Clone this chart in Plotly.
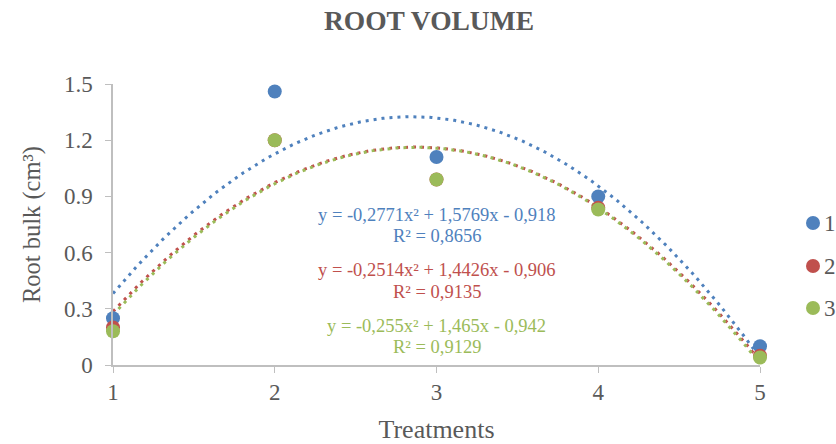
import numpy as np
import plotly.graph_objects as go

treatments = [1, 2, 3, 4, 5]
series_names = ["1", "2", "3"]
s1 = [0.25, 1.46, 1.11, 0.90, 0.10]
s2 = [0.20, 1.20, 0.99, 0.84, 0.05]
s3 = [0.18, 1.20, 0.99, 0.83, 0.04]
# trendline coefficients as displayed on the chart (a, b, c) for y = a x^2 + b x + c
coef1 = [-0.2771, 1.5769, -0.918]
coef2 = [-0.2514, 1.4426, -0.906]
coef3 = [-0.255, 1.465, -0.942]
eq_text1 = ["y = -0,2771x² + 1,5769x - 0,918", "R² = 0,8656"]
eq_text2 = ["y = -0,2514x² + 1,4426x - 0,906", "R² = 0,9135"]
eq_text3 = ["y = -0,255x² + 1,465x - 0,942", "R² = 0,9129"]
y_ticks = [0, 0.3, 0.6, 0.9, 1.2, 1.5]
y_ticktext = ["0", "0.3", "0.6", "0.9", "1.2", "1.5"]

colors = ["#4F81BD", "#C0504D", "#9BBB59"]
FONT = "Liberation Serif, Times New Roman, serif"
GRAY = "#595959"

W, H = 836, 444
L, R, T, B = 113, 76, 84, 79
pw, ph = W - L - R, H - T - B

fig = go.Figure()
xs = np.linspace(1, 5, 200)
for coef, col in zip([coef1, coef2, coef3], colors):
    ys = coef[0] * xs**2 + coef[1] * xs + coef[2]
    fig.add_trace(go.Scatter(x=xs, y=ys, mode="lines",
                             line=dict(color=col, width=3, dash="3px,5px"),
                             showlegend=False, hoverinfo="skip", cliponaxis=False))

for i, (vals, col, name) in enumerate(zip([s1, s2, s3], colors, series_names)):
    fig.add_trace(go.Scatter(x=treatments, y=vals, mode="markers", name=name,
                             marker=dict(color=col, size=14),
                             showlegend=False, cliponaxis=False))

ann = []
for (t, col, y0) in [(eq_text1, colors[0], 0.80), (eq_text2, colors[1], 0.505), (eq_text3, colors[2], 0.21)]:
    ann.append(dict(x=3, y=y0, xref="x", yref="y", text=t[0], showarrow=False,
                    font=dict(family=FONT, size=18.5, color=col)))
    ann.append(dict(x=3, y=y0 - 0.113, xref="x", yref="y", text=t[1], showarrow=False,
                    font=dict(family=FONT, size=18.5, color=col)))

# manual legend (paper coordinates)
shapes = []
leg_px_y = [223, 266, 308]
for name, col, py in zip(series_names, colors, leg_px_y):
    cx = (813 - L) / pw
    cy = (H - B - py) / ph
    rx, ry = 7 / pw, 7 / ph
    shapes.append(dict(type="circle", xref="paper", yref="paper",
                       x0=cx - rx, x1=cx + rx, y0=cy - ry, y1=cy + ry,
                       fillcolor=col, line=dict(width=0)))
    ann.append(dict(x=(822 - L) / pw, y=cy, xref="paper", yref="paper", text=name,
                    showarrow=False, xanchor="left", yanchor="middle",
                    font=dict(family=FONT, size=23, color=GRAY)))

fig.update_layout(
    width=W, height=H,
    margin=dict(l=L, r=R, t=T, b=B, autoexpand=False),
    paper_bgcolor="white", plot_bgcolor="white", showlegend=False,
    title=dict(text="<b>ROOT VOLUME</b>", x=(429 - L) / pw, xref="paper", xanchor="center",
               y=0.953, yanchor="middle",
               font=dict(family=FONT, size=27.5, color=GRAY)),
    font=dict(family=FONT, color=GRAY),
    xaxis=dict(range=[1, 5], tickvals=treatments, showgrid=False, zeroline=False,
               showline=True, linecolor="#BFBFBF", linewidth=1.5,
               ticks="outside", ticklen=6, tickcolor="#BFBFBF",
               tickfont=dict(family=FONT, size=23, color=GRAY),
               title=dict(text="Treatments", font=dict(family=FONT, size=26, color=GRAY), standoff=16)),
    yaxis=dict(range=[0, 1.5], tickvals=y_ticks, ticktext=y_ticktext, showgrid=False, zeroline=False,
               showline=True, linecolor="#BFBFBF", linewidth=1.5,
               ticks="outside", ticklen=6, tickcolor="#BFBFBF", ticklabelstandoff=8,
               tickfont=dict(family=FONT, size=23, color=GRAY),
               title=dict(text="Root bulk (cm³)", font=dict(family=FONT, size=24.5, color=GRAY), standoff=16)),
    annotations=ann,
    shapes=shapes,
)

fig.write_html("out.html")
